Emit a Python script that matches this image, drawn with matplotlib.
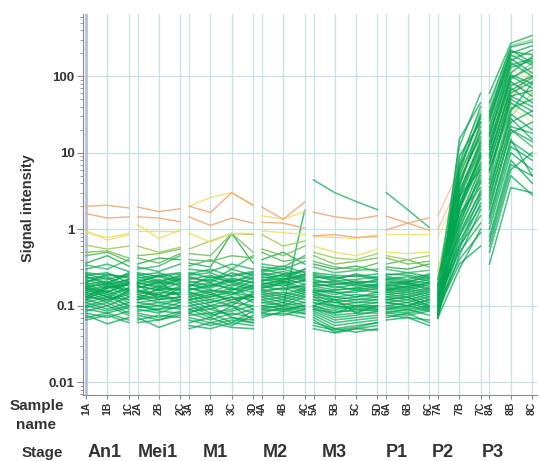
import numpy as np
import matplotlib
matplotlib.use("Agg")
import matplotlib.pyplot as plt
from matplotlib.colors import LinearSegmentedColormap

# Stage / sample layout of the x axis
stages = ["An1", "Mei1", "M1", "M2", "M3", "P1", "P2", "P3"]
sample_names = [["1A", "1B", "1C"], ["2A", "2B", "2C"], ["3A", "3B", "3C", "3D"],
                ["4A", "4B", "4C"], ["5A", "5B", "5C", "5D"], ["6A", "6B", "6C"],
                ["7A", "7B", "7C"], ["8A", "8B", "8C"]]

# Signal intensity per gene (rows), one table per stage (columns = samples)
an1 = [[2.0, 2.05, 1.9], [1.6, 1.4, 1.45], [0.95, 0.72, 0.85], [0.9, 0.78, 0.88], [0.62, 0.55, 0.6],
       [0.5, 0.52, 0.42], [0.45, 0.5, 0.38], [0.36, 0.45, 0.33], [0.34, 0.3, 0.4], [0.3, 0.35, 0.28],
       [0.27, 0.25, 0.24], [0.26, 0.22, 0.26], [0.25, 0.27, 0.2], [0.24, 0.2, 0.25], [0.23, 0.24, 0.18],
       [0.22, 0.18, 0.22], [0.21, 0.23, 0.16], [0.2, 0.17, 0.21], [0.19, 0.21, 0.15], [0.19, 0.15, 0.19],
       [0.18, 0.19, 0.22], [0.18, 0.14, 0.17], [0.17, 0.2, 0.14], [0.17, 0.15, 0.2], [0.16, 0.18, 0.13],
       [0.16, 0.13, 0.17], [0.15, 0.17, 0.19], [0.15, 0.12, 0.14], [0.14, 0.16, 0.12], [0.14, 0.11, 0.16],
       [0.13, 0.15, 0.11], [0.13, 0.12, 0.15], [0.12, 0.14, 0.1], [0.12, 0.1, 0.13], [0.11, 0.13, 0.12],
       [0.11, 0.09, 0.11], [0.1, 0.12, 0.09], [0.1, 0.085, 0.1], [0.095, 0.11, 0.08], [0.09, 0.08, 0.095],
       [0.085, 0.1, 0.075], [0.08, 0.07, 0.085], [0.075, 0.058, 0.07], [0.07, 0.08, 0.065], [0.065, 0.075, 0.06],
       [0.2, 0.26, 0.23], [0.24, 0.19, 0.27], [0.13, 0.18, 0.16], [0.17, 0.13, 0.1], [0.12, 0.17, 0.2]]

mei1 = [[1.95, 1.7, 1.85], [1.45, 1.4, 1.25], [1.15, 0.76, 0.97], [0.95, 0.95, 0.95], [0.6, 0.5, 0.58],
        [0.45, 0.48, 0.55], [0.42, 0.36, 0.48], [0.35, 0.42, 0.4], [0.3, 0.33, 0.45], [0.32, 0.28, 0.35],
        [0.27, 0.24, 0.26], [0.25, 0.27, 0.22], [0.26, 0.21, 0.24], [0.23, 0.25, 0.27], [0.22, 0.19, 0.23],
        [0.21, 0.24, 0.2], [0.2, 0.18, 0.22], [0.19, 0.22, 0.18], [0.18, 0.16, 0.2], [0.2, 0.17, 0.16],
        [0.17, 0.2, 0.19], [0.16, 0.14, 0.18], [0.18, 0.16, 0.14], [0.15, 0.18, 0.16], [0.16, 0.13, 0.15],
        [0.14, 0.16, 0.17], [0.15, 0.14, 0.12], [0.13, 0.15, 0.14], [0.14, 0.12, 0.13], [0.12, 0.13, 0.15],
        [0.13, 0.11, 0.12], [0.12, 0.14, 0.11], [0.11, 0.12, 0.13], [0.1, 0.11, 0.1], [0.11, 0.1, 0.12],
        [0.1, 0.09, 0.11], [0.095, 0.1, 0.09], [0.09, 0.08, 0.1], [0.1, 0.085, 0.08], [0.085, 0.09, 0.095],
        [0.08, 0.07, 0.085], [0.075, 0.065, 0.08], [0.07, 0.052, 0.065], [0.065, 0.075, 0.07], [0.06, 0.065, 0.075],
        [0.24, 0.2, 0.25], [0.2, 0.25, 0.21], [0.17, 0.21, 0.13], [0.12, 0.17, 0.22], [0.19, 0.12, 0.17]]

m1 = [[2.0, 1.65, 3.0, 2.05], [1.45, 1.12, 1.4, 1.2], [2.0, 2.6, 3.0, 2.1], [0.88, 0.68, 0.88, 0.88],
      [0.55, 0.7, 0.88, 0.85], [0.48, 0.45, 0.88, 0.5], [0.4, 0.38, 0.45, 0.42], [0.36, 0.32, 0.88, 0.36],
      [0.33, 0.4, 0.3, 0.45], [0.3, 0.28, 0.35, 0.3], [0.27, 0.23, 0.25, 0.28], [0.25, 0.27, 0.21, 0.24],
      [0.24, 0.2, 0.27, 0.22], [0.22, 0.25, 0.2, 0.26], [0.21, 0.18, 0.23, 0.2], [0.2, 0.22, 0.18, 0.23],
      [0.19, 0.17, 0.21, 0.18], [0.18, 0.2, 0.16, 0.21], [0.17, 0.15, 0.19, 0.16], [0.19, 0.16, 0.14, 0.19],
      [0.16, 0.19, 0.17, 0.15], [0.15, 0.13, 0.16, 0.18], [0.17, 0.14, 0.12, 0.14], [0.14, 0.16, 0.15, 0.13],
      [0.15, 0.12, 0.14, 0.17], [0.13, 0.15, 0.11, 0.14], [0.14, 0.11, 0.13, 0.12], [0.12, 0.13, 0.15, 0.11],
      [0.13, 0.1, 0.12, 0.13], [0.11, 0.12, 0.1, 0.15], [0.12, 0.09, 0.11, 0.1], [0.1, 0.11, 0.13, 0.09],
      [0.11, 0.08, 0.09, 0.12], [0.09, 0.1, 0.1, 0.08], [0.1, 0.075, 0.085, 0.1], [0.085, 0.09, 0.075, 0.09],
      [0.08, 0.065, 0.08, 0.07], [0.075, 0.08, 0.06, 0.085], [0.07, 0.06, 0.07, 0.065], [0.065, 0.055, 0.065, 0.06],
      [0.06, 0.07, 0.055, 0.075], [0.055, 0.05, 0.06, 0.055], [0.05, 0.06, 0.052, 0.05], [0.09, 0.07, 0.1, 0.065],
      [0.08, 0.1, 0.07, 0.06], [0.26, 0.3, 0.24, 0.27], [0.23, 0.21, 0.3, 0.25], [0.18, 0.24, 0.2, 0.17],
      [0.16, 0.18, 0.22, 0.2], [0.12, 0.14, 0.17, 0.13]]

m2 = [[1.94, 1.35, 2.25], [1.23, 1.2, 1.03], [1.5, 1.35, 1.7], [0.95, 0.9, 0.85], [0.85, 0.6, 0.7],
      [0.55, 0.45, 0.6], [0.5, 0.38, 0.42], [0.4, 0.5, 0.35], [0.35, 0.32, 0.45], [0.32, 0.3, 0.38],
      [0.3, 0.26, 0.28], [0.28, 0.3, 0.25], [0.27, 0.24, 0.3], [0.25, 0.28, 0.23], [0.24, 0.21, 0.26],
      [0.23, 0.25, 0.21], [0.22, 0.2, 0.24], [0.21, 0.23, 0.19], [0.2, 0.18, 0.22], [0.19, 0.21, 0.17],
      [0.18, 0.2, 0.21], [0.18, 0.16, 0.19], [0.17, 0.19, 0.15], [0.16, 0.17, 0.18], [0.16, 0.14, 0.17],
      [0.15, 0.17, 0.14], [0.15, 0.13, 0.16], [0.14, 0.15, 0.13], [0.14, 0.12, 0.15], [0.13, 0.14, 0.12],
      [0.13, 0.11, 0.14], [0.12, 0.13, 0.11], [0.12, 0.1, 0.13], [0.11, 0.12, 0.1], [0.11, 0.1, 1.75],
      [0.1, 0.11, 0.095], [0.1, 0.09, 0.1], [0.095, 0.1, 0.09], [0.09, 0.085, 0.1], [0.085, 0.09, 0.08],
      [0.08, 0.095, 0.085], [0.08, 0.075, 0.09], [0.075, 0.08, 0.07], [0.07, 0.085, 0.078], [0.09, 0.1, 0.11],
      [0.29, 0.33, 0.27], [0.26, 0.22, 0.3], [0.21, 0.26, 0.22], [0.19, 0.22, 0.25], [0.17, 0.2, 0.16]]

m3 = [[1.67, 1.45, 1.35, 1.5], [0.82, 0.85, 0.78, 0.8], [0.8, 0.78, 0.76, 0.85], [0.6, 0.5, 0.45, 0.55],
      [0.5, 0.42, 0.4, 0.48], [0.45, 0.35, 0.38, 0.42], [0.38, 0.32, 0.3, 0.36], [0.35, 0.3, 0.33, 0.28],
      [0.32, 0.27, 0.29, 0.3], [4.4, 3.0, 2.3, 1.8], [0.26, 0.23, 0.25, 0.22], [0.25, 0.21, 0.22, 0.24],
      [0.23, 0.24, 0.2, 0.21], [0.22, 0.19, 0.21, 0.2], [0.21, 0.2, 0.18, 0.19], [0.2, 0.17, 0.19, 0.17],
      [0.19, 0.18, 0.16, 0.18], [0.18, 0.16, 0.17, 0.16], [0.17, 0.15, 0.15, 0.17], [0.16, 0.14, 0.16, 0.15],
      [0.16, 0.15, 0.13, 0.14], [0.15, 0.13, 0.14, 0.13], [0.15, 0.12, 0.13, 0.15], [0.14, 0.13, 0.12, 0.12],
      [0.14, 0.11, 0.12, 0.13], [0.13, 0.12, 0.11, 0.11], [0.13, 0.1, 0.11, 0.12], [0.12, 0.11, 0.1, 0.1],
      [0.12, 0.095, 0.1, 0.11], [0.11, 0.1, 0.09, 0.095], [0.11, 0.09, 0.095, 0.1], [0.1, 0.085, 0.085, 0.09],
      [0.1, 0.08, 0.09, 0.085], [0.095, 0.075, 0.08, 0.08], [0.09, 0.07, 0.075, 0.085], [0.085, 0.065, 0.07, 0.075],
      [0.08, 0.06, 0.065, 0.07], [0.075, 0.055, 0.06, 0.065], [0.07, 0.05, 0.055, 0.06], [0.065, 0.045, 0.05, 0.055],
      [0.06, 0.05, 0.045, 0.05], [0.055, 0.048, 0.052, 0.06], [0.05, 0.044, 0.05, 0.048], [0.09, 0.08, 0.1, 0.09],
      [0.1, 0.12, 0.08, 0.1], [0.27, 0.25, 0.24, 0.26], [0.24, 0.22, 0.26, 0.23], [0.2, 0.21, 0.19, 0.22],
      [0.18, 0.19, 0.2, 0.18], [0.15, 0.16, 0.17, 0.19]]

p1 = [[1.48, 1.2, 0.97], [0.98, 1.2, 1.4], [0.86, 0.86, 0.86], [0.5, 0.48, 0.5], [0.45, 0.4, 0.45],
      [0.42, 0.35, 0.38], [0.35, 0.4, 0.32], [0.32, 0.3, 0.35], [0.3, 0.27, 0.29], [3.0, 1.8, 1.06],
      [0.26, 0.25, 0.23], [0.24, 0.22, 0.26], [0.23, 0.21, 0.2], [0.22, 0.24, 0.21], [0.21, 0.19, 0.22],
      [0.2, 0.2, 0.18], [0.19, 0.17, 0.2], [0.18, 0.19, 0.17], [0.17, 0.16, 0.19], [0.17, 0.18, 0.15],
      [0.16, 0.15, 0.17], [0.16, 0.17, 0.14], [0.15, 0.14, 0.16], [0.15, 0.16, 0.13], [0.14, 0.13, 0.15],
      [0.14, 0.15, 0.12], [0.13, 0.12, 0.14], [0.13, 0.14, 0.11], [0.12, 0.11, 0.13], [0.12, 0.13, 0.1],
      [0.11, 0.1, 0.12], [0.11, 0.12, 0.095], [0.1, 0.095, 0.11], [0.1, 0.11, 0.09], [0.095, 0.09, 0.1],
      [0.09, 0.1, 0.085], [0.09, 0.085, 0.095], [0.085, 0.08, 0.09], [0.08, 0.09, 0.075], [0.08, 0.075, 0.085],
      [0.075, 0.07, 0.065], [0.07, 0.08, 0.06], [0.065, 0.07, 0.055], [0.11, 0.1, 0.12], [0.12, 0.13, 0.1],
      [0.25, 0.27, 0.24], [0.22, 0.2, 0.25], [0.19, 0.21, 0.23], [0.18, 0.2, 0.16], [0.16, 0.18, 0.2]]

p2 = [[1.5, 6.0, 15], [1.0, 4.0, 9.0], [0.8, 3.0, 12], [0.3, 2.0, 8.0], [0.28, 5.0, 20],
      [0.25, 1.5, 6.0], [0.22, 8.0, 35], [0.2, 2.5, 15], [0.2, 1.0, 4.0], [0.18, 12, 60],
      [0.18, 0.8, 2.5], [0.17, 3.5, 25], [0.16, 1.2, 5.0], [0.16, 6.0, 30], [0.15, 0.6, 1.5],
      [0.15, 2.0, 10], [0.14, 4.0, 18], [0.14, 0.9, 3.0], [0.13, 1.8, 7.0], [0.13, 7.0, 40],
      [0.12, 0.5, 1.2], [0.12, 2.8, 12], [0.12, 1.4, 4.5], [0.11, 9.0, 25], [0.11, 0.7, 2.0],
      [0.11, 3.0, 14], [0.1, 1.1, 5.5], [0.1, 5.0, 22], [0.1, 0.4, 0.9], [0.095, 2.2, 9.0],
      [0.095, 1.6, 3.5], [0.09, 4.5, 16], [0.09, 0.35, 0.6], [0.09, 1.3, 6.5], [0.085, 2.5, 11],
      [0.085, 0.8, 3.2], [0.08, 6.5, 28], [0.08, 1.9, 7.5], [0.08, 0.45, 1.8], [0.075, 3.2, 13],
      [0.075, 1.0, 4.2], [0.07, 0.3, 1.0], [0.068, 2.0, 8.5], [0.07, 15, 45], [0.075, 0.6, 2.8],
      [0.22, 3.8, 19], [0.19, 1.7, 9.5], [0.14, 5.5, 32], [0.12, 0.55, 2.2], [0.1, 2.7, 6.0]]

p3 = [[12, 80, 60], [8, 50, 120], [15, 120, 90], [5, 40, 25], [25, 180, 200],
      [3, 30, 60], [40, 250, 300], [10, 90, 150], [2, 20, 12], [60, 270, 340],
      [1.5, 15, 5], [20, 150, 100], [4, 35, 80], [30, 200, 250], [0.8, 8, 4],
      [9, 70, 45], [18, 110, 180], [2.5, 25, 35], [6, 45, 30], [35, 220, 150],
      [0.5, 5, 2.8], [11, 100, 70], [3.5, 28, 15], [22, 160, 220], [1.2, 12, 8],
      [14, 95, 130], [4.5, 55, 40], [28, 170, 110], [0.35, 3.5, 3], [7, 60, 85],
      [2.8, 22, 18], [16, 130, 160], [0.6, 6, 10], [5.5, 50, 35], [12, 85, 55],
      [2.2, 18, 25], [26, 190, 140], [8.5, 75, 100], [1, 10, 6], [13, 105, 80],
      [3.2, 32, 20], [0.7, 7, 5], [9.5, 65, 95], [45, 240, 280], [1.8, 20, 14],
      [17, 140, 170], [7.5, 55, 65], [32, 210, 190], [1.4, 14, 9], [6, 38, 50]]

stage_values = [an1, mei1, m1, m2, m3, p1, p2, p3]

# x positions: unit step inside a stage, narrow gap between stages
gap = 0.42
positions = []
start = 0.0
for names in sample_names:
    positions.append(start + np.arange(len(names)))
    start += len(names) - 1 + gap

# colour of each gene line follows its value in the first sample
cmap = LinearSegmentedColormap.from_list(
    "expr", [(0.0, "#00a651"), (0.22, "#00a651"), (0.44, "#7cc45a"),
             (0.66, "#efe36a"), (0.87, "#f5a775"), (1.0, "#f5a775")])
first = np.log10([row[0] for row in an1])
line_colors = cmap(np.clip((first + 0.8) / 1.15, 0, 1))
order = np.argsort(first)

fig = plt.figure(figsize=(5.39, 4.61), dpi=100)
ax = fig.add_axes([83 / 539, 1 - 395 / 461, 454 / 539, 381 / 461])
ax.set_yscale("log")
ax.set_ylim(0.0068, 650)
ax.set_xlim(-0.14, positions[-1][-1] + 0.23)

# grid
grid_col = "#c9e0e4"
for xs in positions:
    for x in xs:
        ax.axvline(x, color=grid_col, lw=0.9, zorder=0)
for yv in [0.01, 0.1, 1, 10, 100]:
    ax.axhline(yv, color=grid_col, lw=0.9, zorder=0)
ax.axvline(positions[0][0], color="#b4c0e2", lw=2.0, zorder=0.5)

# gene profiles, one broken segment per stage
for i in order:
    is_green = first[i] < -0.45
    for k, (xs, vals) in enumerate(zip(positions, stage_values)):
        late = k >= 6
        if is_green:
            ax.plot(xs, vals[i], color=line_colors[i], lw=1.15, alpha=0.7, zorder=1)
        else:
            ax.plot(xs, vals[i], color=line_colors[i], lw=1.0,
                    alpha=0.6 if late else 0.9, zorder=0.9 if late else 2)

for side in ["top", "right"]:
    ax.spines[side].set_visible(False)
for side in ["left", "bottom"]:
    ax.spines[side].set_color("#8a8a8a")
    ax.spines[side].set_linewidth(0.8)

all_pos = np.concatenate(positions)
ax.set_xticks(all_pos)
ax.set_xticklabels([n for names in sample_names for n in names], rotation=90,
                   fontsize=7.5, fontweight="bold", color="#333333", family="Liberation Sans")
ax.tick_params(axis="x", length=3, color="#8a8a8a", pad=2)
ax.set_yticks([0.01, 0.1, 1, 10, 100])
ax.set_yticklabels(["0.01", "0.1", "1", "10", "100"], fontsize=9.5, fontweight="bold",
                   color="#333333", family="Liberation Sans")
ax.tick_params(axis="y", which="major", length=4, color="#8a8a8a", pad=2)
ax.tick_params(axis="y", which="minor", length=2, color="#8a8a8a")

fig.text(28 / 539, 1 - 208 / 461, "Signal intensity", rotation=90, ha="center", va="center",
         fontsize=10.5, fontweight="bold", color="#333333", family="Liberation Sans")
fig.text(37 / 539, 1 - 406 / 461, "Sample", ha="center", va="center",
         fontsize=11, fontweight="bold", color="#333333", family="Liberation Sans")
fig.text(36 / 539, 1 - 425 / 461, "name", ha="center", va="center",
         fontsize=11, fontweight="bold", color="#333333", family="Liberation Sans")
fig.text(42 / 539, 1 - 457 / 461, "Stage", ha="center", va="baseline",
         fontsize=11, fontweight="bold", color="#333333", family="Liberation Sans")

stage_label_px = [105, 157.5, 215, 275, 334, 397, 443, 493]
for name, px in zip(stages, stage_label_px):
    fig.text(px / 539, 1 - 457 / 461, name, ha="center", va="baseline",
             fontsize=13, fontweight="bold", color="#333333", family="Liberation Sans")

fig.savefig("out.png", dpi=100)
